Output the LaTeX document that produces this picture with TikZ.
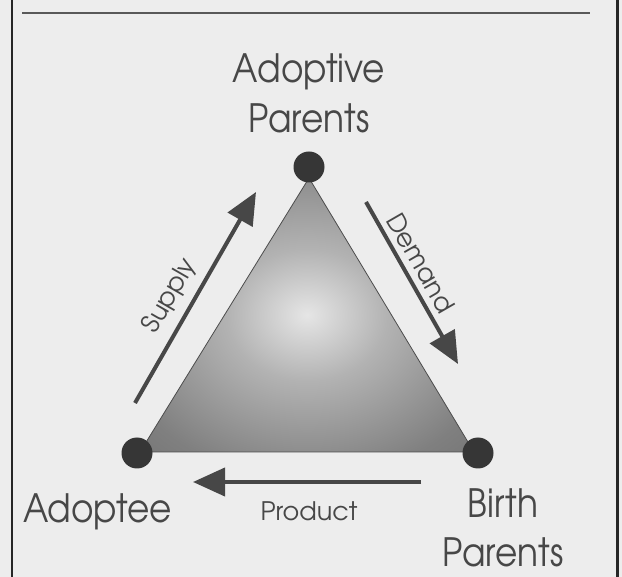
\documentclass[tikz,border=0pt]{standalone}
\usepackage{fontspec}
\setmainfont{texgyreadventor-regular.otf}
\usetikzlibrary{arrows.meta}

\definecolor{paper}{gray}{0.93}
\definecolor{ink}{gray}{0.28}
\definecolor{dotink}{gray}{0.21}
\definecolor{rule}{gray}{0.35}
\definecolor{glowA}{gray}{0.90}
\definecolor{glowB}{gray}{0.70}
\definecolor{glowC}{gray}{0.50}
\definecolor{glowD}{gray}{0.39}
\definecolor{glowE}{gray}{0.32}

% soft light centre fading to dark corners
\pgfdeclareradialshading{glow}{\pgfpoint{0bp}{0bp}}{%
  color(0bp)=(glowA); color(12bp)=(glowB); color(30bp)=(glowC);
  color(50bp)=(glowD); color(75bp)=(glowE)}

\tikzset{
  corner/.style={circle, fill=dotink, minimum size=31pt, inner sep=0pt},
  bigword/.style={text=ink, inner sep=0pt, anchor=base, align=center,
    xscale=0.88, font=\fontsize{39}{50}\selectfont},
  smallword/.style={text=ink, inner sep=0pt,
    font=\fontsize{25.5}{30}\selectfont},
  flow/.style={draw=ink, line width=4pt,
    -{Triangle[length=32pt, width=28pt]}},
}

\begin{document}
\begin{tikzpicture}[x=1pt, y=-1pt]
  \useasboundingbox (0,0) rectangle (622,577);
  \fill[paper] (0,0) rectangle (622,577);

  % page frame and rule
  \draw[line width=2.5pt, black!85] (12,0) -- (12,577);
  \draw[line width=3pt, black!85] (617,0) -- (617,577);
  \draw[line width=2pt, rule] (22,12.7) -- (590,12.7);

  % shaded triangle
  \coordinate (tA) at (309,178);
  \coordinate (tL) at (140,452);
  \coordinate (tR) at (474,452);
  \shade[shading=glow, draw=black!70, line width=0.8pt]
    (tA) -- (tL) -- (tR) -- cycle;

  % corner dots
  \node[corner] (top)   at (309,167) {};
  \node[corner] (left)  at (137,453) {};
  \node[corner] (right) at (478,453) {};

  % labels (base anchor sits on the last line)
  \node[bigword] (adoptive) at (309,133) {Adoptive\\Parents};
  \node[bigword] (adoptee)  at (97.5,522) {Adoptee};
  \node[bigword] (birth)    at (503,567) {Birth\\Parents};
  \node[smallword, anchor=base] (product) at (309,521) {Product};
  \node[smallword, rotate=60]  (supply) at (170,296) {Supply};
  \node[smallword, rotate=-60] (demand) at (421,263) {Demand};

  % flows
  \coordinate (s0) at (135,403);
  \coordinate (s1) at (256,192);
  \coordinate (d0) at (366,202);
  \coordinate (d1) at (458,364);
  \coordinate (p0) at (421,482);
  \coordinate (p1) at (193,482);
  \draw[flow] (s0) -- (s1);
  \draw[flow] (d0) -- (d1);
  \draw[flow] (p0) -- (p1);
\end{tikzpicture}
\end{document}
